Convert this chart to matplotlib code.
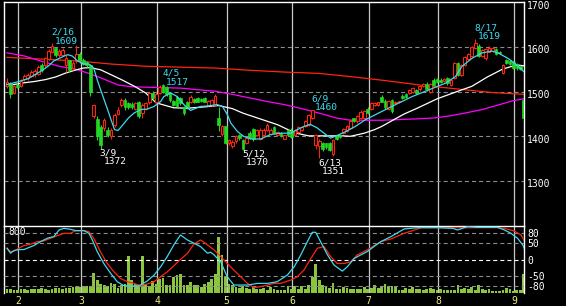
"""Daily candlestick chart with moving averages, volume and a stochastic panel."""

import matplotlib

matplotlib.use("Agg")
import matplotlib.pyplot as plt
import matplotlib.transforms as mtransforms
import numpy as np

# ---------------------------------------------------------------- data
# one entry per trading day, 2022-01-27 .. 2022-09-06
opens = [1513, 1520, 1498, 1515, 1512, 1528, 1530, 1535, 1540, 1540,
         1560, 1560, 1574, 1590, 1598, 1582, 1583, 1560, 1570, 1552,
         1568, 1585, 1572, 1566, 1560, 1445, 1438, 1420, 1418, 1415,
         1400, 1425, 1450, 1470, 1482, 1475, 1472, 1462, 1478, 1452,
         1462, 1476, 1497, 1478, 1496, 1516, 1510, 1495, 1480, 1488,
         1485, 1466, 1478, 1478, 1484, 1486, 1484, 1485, 1470, 1470,
         1470, 1440, 1405, 1422, 1384, 1378, 1390, 1402, 1392, 1385,
         1408, 1416, 1404, 1394, 1402, 1414, 1406, 1420, 1404, 1407,
         1395, 1414, 1412, 1404, 1410, 1414, 1422, 1426, 1441, 1381,
         1378, 1386, 1384, 1385, 1360, 1400, 1404, 1408, 1412, 1418,
         1440, 1434, 1440, 1442, 1462, 1462, 1470, 1470, 1488, 1480,
         1462, 1482, 1474, 1476, 1490, 1494, 1496, 1500, 1504, 1505,
         1512, 1518, 1500, 1527, 1528, 1526, 1524, 1530, 1516, 1530,
         1564, 1538, 1560, 1574, 1580, 1598, 1603, 1580, 1576, 1590,
         1592, 1596, 1590, 1542, 1570, 1568, 1566, 1562, 1558, 1482]
highs = [1530, 1522, 1515, 1520, 1528, 1540, 1542, 1548, 1550, 1560,
         1564, 1578, 1596, 1609, 1600, 1596, 1598, 1582, 1572, 1568,
         1605, 1590, 1576, 1568, 1562, 1472, 1445, 1425, 1440, 1420,
         1418, 1452, 1465, 1486, 1485, 1478, 1478, 1478, 1480, 1474,
         1478, 1500, 1502, 1500, 1514, 1517, 1512, 1498, 1482, 1490,
         1488, 1468, 1480, 1492, 1486, 1488, 1486, 1487, 1482, 1484,
         1494, 1465, 1425, 1424, 1395, 1392, 1402, 1406, 1394, 1400,
         1412, 1418, 1416, 1418, 1418, 1430, 1418, 1422, 1412, 1410,
         1404, 1416, 1418, 1416, 1424, 1424, 1436, 1450, 1460, 1406,
         1394, 1388, 1386, 1387, 1395, 1402, 1406, 1418, 1426, 1438,
         1442, 1448, 1458, 1460, 1465, 1478, 1476, 1478, 1493, 1484,
         1482, 1484, 1480, 1480, 1494, 1496, 1506, 1510, 1506, 1514,
         1520, 1522, 1520, 1530, 1531, 1530, 1530, 1534, 1528, 1566,
         1566, 1562, 1580, 1586, 1603, 1619, 1606, 1596, 1598, 1602,
         1600, 1598, 1592, 1562, 1574, 1570, 1568, 1564, 1560, 1485]
lows = [1508, 1485, 1495, 1508, 1510, 1524, 1526, 1532, 1534, 1538,
        1545, 1556, 1570, 1586, 1578, 1578, 1580, 1545, 1545, 1548,
        1565, 1565, 1560, 1555, 1490, 1440, 1392, 1372, 1412, 1398,
        1395, 1420, 1448, 1466, 1460, 1462, 1462, 1460, 1440, 1440,
        1458, 1472, 1482, 1472, 1494, 1497, 1490, 1478, 1468, 1466,
        1470, 1448, 1462, 1475, 1474, 1476, 1476, 1476, 1468, 1468,
        1468, 1412, 1400, 1382, 1380, 1374, 1386, 1392, 1370, 1383,
        1394, 1390, 1400, 1392, 1398, 1412, 1402, 1405, 1402, 1398,
        1393, 1402, 1396, 1402, 1408, 1412, 1420, 1424, 1438, 1372,
        1351, 1368, 1372, 1366, 1356, 1392, 1396, 1406, 1410, 1416,
        1432, 1430, 1438, 1440, 1450, 1460, 1468, 1468, 1476, 1462,
        1460, 1452, 1472, 1474, 1484, 1486, 1494, 1498, 1494, 1502,
        1510, 1502, 1496, 1514, 1520, 1520, 1522, 1516, 1512, 1528,
        1536, 1536, 1558, 1572, 1578, 1596, 1578, 1578, 1572, 1588,
        1590, 1582, 1584, 1540, 1562, 1560, 1550, 1548, 1548, 1438]
closes = [1522, 1495, 1512, 1510, 1525, 1536, 1538, 1545, 1546, 1556,
          1548, 1575, 1592, 1602, 1582, 1592, 1594, 1576, 1548, 1565,
          1585, 1570, 1563, 1560, 1500, 1470, 1400, 1380, 1436, 1402,
          1414, 1448, 1460, 1482, 1465, 1466, 1465, 1475, 1445, 1470,
          1474, 1496, 1486, 1494, 1510, 1500, 1494, 1482, 1470, 1468,
          1474, 1452, 1466, 1488, 1476, 1478, 1479, 1478, 1480, 1482,
          1490, 1425, 1422, 1384, 1392, 1388, 1400, 1396, 1372, 1396,
          1396, 1394, 1414, 1414, 1415, 1426, 1415, 1408, 1410, 1400,
          1402, 1404, 1398, 1414, 1420, 1420, 1434, 1448, 1458, 1404,
          1390, 1372, 1375, 1370, 1392, 1394, 1398, 1416, 1424, 1434,
          1435, 1445, 1455, 1456, 1452, 1475, 1474, 1476, 1478, 1466,
          1480, 1456, 1478, 1479, 1486, 1488, 1504, 1508, 1497, 1512,
          1518, 1505, 1517, 1516, 1522, 1522, 1528, 1520, 1526, 1564,
          1538, 1560, 1578, 1584, 1600, 1610, 1580, 1594, 1595, 1598,
          1597, 1585, 1586, 1560, 1565, 1562, 1554, 1552, 1550, 1442]
volumes = [45, 45, 35, 35, 45, 45, 35, 45, 45, 45,
           55, 45, 40, 50, 60, 60, 50, 55, 65, 70,
           72, 72, 80, 84, 84, 240, 151, 111, 91, 84,
           120, 111, 60, 100, 103, 441, 151, 111, 80, 441,
           111, 84, 140, 111, 171, 180, 91, 100, 191, 211,
           231, 91, 91, 131, 101, 101, 72, 111, 131, 171,
           231, 664, 459, 191, 111, 91, 72, 60, 80, 60,
           52, 72, 52, 44, 60, 32, 72, 44, 32, 32,
           32, 84, 44, 84, 52, 84, 44, 91, 191, 350,
           151, 101, 72, 60, 120, 44, 44, 72, 60, 44,
           44, 52, 44, 72, 44, 60, 101, 60, 80, 111,
           72, 80, 80, 32, 32, 60, 52, 72, 44, 52,
           32, 44, 60, 44, 32, 44, 32, 32, 32, 32,
           91, 44, 60, 44, 72, 32, 91, 52, 32, 44,
           20, 20, 20, 32, 60, 44, 20, 32, 32, 231]

month_labels = ["2", "3", "4", "5", "6", "7", "8", "9"]
month_first_day = [3, 21, 43, 63, 82, 104, 124, 146]

# moving averages (trading-day index, price)
ma_short_days = [0, 3, 6, 8, 10, 12, 13.5, 15.4, 17.4, 18.8, 20.3, 22.2, 23.6, 25,
                 26, 27, 28, 29, 30, 31, 32, 33, 35, 36.6, 38.5, 40.4, 42.4, 44.3,
                 45.2, 47.2, 49.1, 51, 52.9, 55.8, 57.8, 60.6, 62.1, 63.5, 64.5,
                 66.4, 68.2, 70.3, 73.1, 76, 78.9, 81.8, 83.7, 85.6, 87.4, 89.4,
                 91.4, 93.3, 95.2, 97.5, 100.4, 103.3, 107.1, 112, 116.8, 121.6,
                 126.4, 129.3, 131.2, 134.1, 137, 139.9, 141.8, 144.6, 146.6, 149]
ma_short_values = [1516, 1522, 1529, 1538, 1547, 1558, 1569, 1576, 1583, 1580, 1569,
                   1562, 1562, 1553, 1527, 1504, 1482, 1460, 1437, 1415, 1413, 1422,
                   1441, 1452, 1460, 1461, 1467, 1478, 1489, 1497, 1489, 1471, 1458,
                   1467, 1468, 1471, 1467, 1449, 1430, 1411, 1400, 1394, 1394, 1404,
                   1407, 1407, 1415, 1422, 1427, 1419, 1407, 1396, 1402, 1410, 1422,
                   1437, 1452, 1471, 1489, 1504, 1519, 1534, 1557, 1575, 1587, 1591,
                   1586, 1574, 1562, 1545]
ma25_days = [0, 4, 8, 11, 14, 17, 20, 22, 24, 27, 30, 33, 37, 40, 43, 48, 52, 57,
             61, 65, 68, 73, 78, 81, 84, 87, 97, 99, 103, 106, 108, 111, 114.5,
             118, 121, 124, 130, 134, 138.5, 143, 147, 149]
ma25_values = [1513, 1519, 1523, 1527, 1533, 1542, 1549, 1553, 1554, 1549, 1538,
               1527, 1511, 1497, 1475, 1464, 1463, 1466, 1469, 1462, 1452, 1439,
               1426, 1415, 1406, 1401, 1401, 1400, 1407, 1415, 1422, 1435, 1450,
               1462, 1473, 1484, 1501, 1512, 1533, 1551, 1560, 1558]
ma75_days = [0, 5, 10, 15, 20, 24, 28, 32, 36, 45, 50, 60, 65, 70, 75, 80, 85, 90,
             95, 99, 108, 118, 123, 127, 132, 137, 142, 146, 149]
ma75_values = [1587, 1580, 1568, 1557, 1550, 1540, 1528, 1515, 1511, 1509, 1508,
               1501, 1494, 1486, 1478, 1471, 1462, 1452, 1441, 1436, 1436, 1439,
               1441, 1445, 1452, 1460, 1471, 1480, 1484]
ma200_days = [0, 10, 20, 30, 40, 50, 60, 70, 80, 90, 100, 110, 120, 130, 140, 149]
ma200_values = [1577, 1573, 1569, 1562, 1557, 1555, 1553, 1548, 1544, 1541, 1533,
                1524, 1514, 1506, 1498, 1494]

# stochastic oscillator (scale -100..100)
stoch_k_days = [0, 1, 2, 3.4, 4.9, 5.8, 7.7, 9.7, 11.6, 13.5, 15, 16.4, 18.3, 19.8,
                22.2, 23.6, 24.6, 26, 27.9, 29.9, 31.8, 33.7, 35.6, 37.5, 38.5,
                40.4, 42.4, 44.3, 46.2, 48.1, 50, 52, 53.9, 55.8, 57.8, 58.7,
                59.7, 61.6, 63.5, 65.4, 69.3, 72.2, 75.1, 77.9, 80.8, 82.8, 84.7,
                86.6, 88, 89, 90.4, 92.4, 94.3, 96.7, 98.1, 100.1, 102, 103.9,
                105.8, 107.8, 110.7, 114.5, 118.4, 124.1, 128.5, 129.9, 132.8,
                135.7, 141.4, 143.4, 145.3, 147.2, 148.7, 149.3]
stoch_k_values = [35, 20, 28, 31, 31, 35, 43, 55, 65, 70, 90, 95, 92, 88, 88, 80,
                  60, 25, -11, -41, -66, -78, -79, -79, -76, -64, -46, -21, 10,
                  45, 75, 60, 50, 40, 20, 23, 15, -6, -51, -76, -76, -71, -71,
                  -66, -46, -21, 15, 55, 83, 83, 55, 15, -16, -34, -21, 4, 15, 25,
                  40, 55, 70, 93, 97, 97, 95, 90, 100, 98, 98, 90, 80, 65, 45, 30]
stoch_d_days = [0, 1, 2, 3.4, 4.9, 6.8, 8.7, 10.6, 12.5, 14.5, 16.4, 18.3, 19.8,
                22.2, 23.6, 25, 26.9, 28.9, 30.8, 32.7, 34.7, 36.6, 38.5, 40.4,
                42.4, 44.3, 46.2, 48.1, 50.1, 52, 53.9, 55.8, 57.8, 59.7, 61.6,
                63.5, 65.4, 67.4, 69.3, 71.2, 73.1, 75.1, 77, 78.9, 81.8, 83.7,
                85.6, 87.6, 89.5, 91.4, 93.3, 95.2, 97.2, 99.1, 101, 103.9,
                105.8, 107.8, 110.7, 114.5, 118.4, 119.3, 124.1, 141.4, 143.4,
                146.2, 148.2, 149.3]
stoch_d_values = [35, 25, 26, 35, 43, 47, 55, 57, 65, 73, 80, 80, 88, 88, 85, 65,
                  25, -11, -36, -56, -66, -71, -78, -73, -66, -51, -36, -18, 2,
                  19, 48, 60, 45, 30, 10, -11, -31, -51, -71, -84, -81, -76, -71,
                  -71, -61, -51, -31, 4, 35, 40, 10, -11, -11, -6, 15, 30, 42, 55,
                  63, 80, 93, 97, 97, 97, 95, 87, 75, 55]

# labelled highs and lows
peak_days = [13, 27, 45, 68, 88, 90, 135]
peak_dates = ["2/16", "3/9", "4/5", "5/12", "6/9", "6/13", "8/17"]
peak_prices = [1609, 1372, 1517, 1370, 1460, 1351, 1619]
peak_is_high = [True, False, True, False, True, False, True]

price_ticks = [1300, 1400, 1500, 1600, 1700]
osc_ticks = [80, 50, 0, -50, -80]

# ---------------------------------------------------------------- style
RED = "#ff2410"
GREEN = "#22d822"
CYAN = "#3fd9ef"
MAGENTA = "#ff00ff"
VOL = "#8cc63e"
GRID_V = "#c8c8c8"
GRID_H = "#8c8c8c"
TICK_X = "#eeee88"
FONT = "DejaVu Sans Mono"

plt.rcParams["font.family"] = FONT
plt.rcParams["lines.scale_dashes"] = False
DASH = (0, (2.9, 2.2))
W, H = 566, 306


def style_panel(ax):
    ax.set_facecolor("black")
    for side in ("top", "left", "right"):
        ax.spines[side].set_color("white")
        ax.spines[side].set_linewidth(1.0)
    ax.spines["bottom"].set_visible(False)
    ax.set_xticks(np.array(month_first_day) + 0.3)
    ax.grid(axis="x", color=GRID_V, linewidth=0.9)
    ax.set_axisbelow(True)


def draw_candles(ax):
    o, h, l, c = (np.array(v, dtype=float) for v in (opens, highs, lows, closes))
    idx = np.arange(len(c))
    up = c >= o
    colors = np.where(up, RED, GREEN)
    ax.vlines(idx, l, h, colors=colors, linewidth=0.75, zorder=3)
    bottom = np.minimum(o, c)
    height = np.maximum(np.abs(c - o), 1.5)
    ax.bar(idx[up], height[up], bottom=bottom[up], width=0.78,
           facecolor="black", edgecolor=RED, linewidth=0.75, zorder=4)
    ax.bar(idx[~up], height[~up], bottom=bottom[~up], width=0.78,
           facecolor=GREEN, edgecolor=GREEN, linewidth=0.5, zorder=4)


def draw_price(ax):
    style_panel(ax)
    ax.set_ylim(1199, 1701)
    ax.set_yticks(price_ticks)
    for p in price_ticks[:-1]:
        ax.axhline(p, color=GRID_H, linewidth=0.8, linestyle=DASH, zorder=1)
    ax.yaxis.tick_right()
    ax.tick_params(axis="y", length=0, pad=2.2, labelcolor="white", labelsize=7)
    ax.tick_params(axis="x", length=0, labelbottom=False)

    ax.plot(ma200_days, ma200_values, color=RED, linewidth=0.9, zorder=2)
    ax.plot(ma75_days, ma75_values, color=MAGENTA, linewidth=0.9, zorder=2)
    ax.plot(ma25_days, ma25_values, color="white", linewidth=0.9, zorder=2)
    draw_candles(ax)
    ax.plot(ma_short_days, ma_short_values, color=CYAN, linewidth=0.9, zorder=5)

    for day, date, price, high in zip(peak_days, peak_dates, peak_prices, peak_is_high):
        color = CYAN if high else "white"
        date_dy, value_dy = (10.8, 1.7) if high else (-4.4, -13.1)
        ax.annotate(date, (day, price), xytext=(-1, date_dy), textcoords="offset pixels",
                    ha="left", va="center", color=color, fontsize=6.8, zorder=6)
        ax.annotate(str(price), (day, price), xytext=(3, value_dy),
                    textcoords="offset pixels", ha="left", va="center",
                    color=color, fontsize=6.8, zorder=6)


def draw_lower(axv):
    style_panel(axv)
    idx = np.arange(len(volumes))
    axv.bar(idx, volumes, width=0.8, color=VOL, linewidth=0, zorder=2)
    axv.set_ylim(0, 800)
    axv.set_yticks([])
    axv.set_xticklabels(month_labels)
    axv.tick_params(axis="x", length=0, pad=1.8, labelcolor=TICK_X, labelsize=7)
    axv.text(0.008, 0.985, "800", transform=axv.transAxes, ha="left", va="top",
             color="white", fontsize=7)

    axo = axv.twinx()
    axo.set_ylim(-100, 102)
    for side in axo.spines.values():
        side.set_visible(False)
    for v in osc_ticks:
        axo.axhline(v, color="white" if v == 0 else GRID_H, linewidth=0.8,
                    linestyle=DASH, zorder=1)
    axo.plot(stoch_d_days, stoch_d_values, color=RED, linewidth=0.9, zorder=3)
    axo.plot(stoch_k_days, stoch_k_values, color=CYAN, linewidth=0.9, zorder=4)
    axo.set_yticks(osc_ticks)
    axo.set_yticklabels([str(v) for v in osc_ticks])
    axo.tick_params(axis="y", length=0, pad=2.2, labelcolor="white", labelsize=7)


def main():
    fig = plt.figure(figsize=(W / 100, H / 100), dpi=100, facecolor="black")
    ax = fig.add_axes([4 / W, 1 - 226 / H, 520 / W, 224 / H])
    axv = fig.add_axes([4 / W, 1 - 293 / H, 520 / W, 67 / H], sharex=ax)
    ax.set_xlim(-0.87, 149.06)
    draw_price(ax)
    draw_lower(axv)

    # price labels sit a couple of pixels below their grid lines
    shift = mtransforms.ScaledTranslation(0, -2.2 / 100, fig.dpi_scale_trans)
    for label in ax.get_yticklabels():
        label.set_transform(label.get_transform() + shift)

    fig.savefig("out.png", dpi=100, facecolor="black")


if __name__ == "__main__":
    main()
